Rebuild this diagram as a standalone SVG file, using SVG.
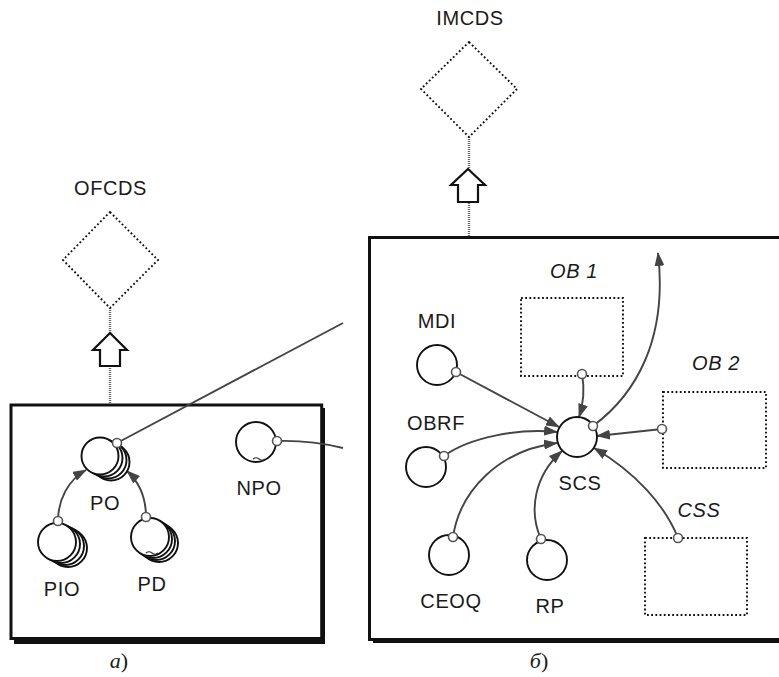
<svg xmlns="http://www.w3.org/2000/svg" width="779" height="677" viewBox="0 0 779 677">
<style>
.t{font-family:"Liberation Sans",Arial,sans-serif;font-size:20px;fill:#1a1a1a;text-anchor:middle;letter-spacing:0.6px}
.it{font-style:italic}
.cap{font-family:"Liberation Serif","Times New Roman",serif;font-size:22px;fill:#1a1a1a;text-anchor:middle}
.node{fill:#fff;stroke:#111;stroke-width:1.9}
.dot{fill:none;stroke:#111;stroke-width:1.9;stroke-dasharray:1.8 2.4}
.link{fill:none;stroke:#444;stroke-width:1.9}
.conn{fill:#fff;stroke:#555;stroke-width:1.6}
.stem{stroke:#666;stroke-width:2.4;stroke-dasharray:1 1}
.big{fill:#fff;stroke:#111;stroke-width:2.2}
</style>
<defs>
<marker id="ah" markerUnits="userSpaceOnUse" viewBox="0 0 14 10" refX="13" refY="5" markerWidth="14" markerHeight="10" orient="auto">
<path d="M0,0 L14,5 L0,10 Z" fill="#444"/>
</marker>
</defs>

<!-- Panel a -->
<g id="panel-a">
<rect x="14" y="408" width="311" height="236" fill="#111"/>
<rect x="11" y="405" width="310.7" height="233.5" fill="#fff" stroke="#111" stroke-width="3"/>
</g>
<!-- Panel b -->
<g id="panel-b">
<rect x="373" y="241" width="420" height="402" fill="#111"/>
<rect x="369.5" y="237.5" width="430" height="402" fill="#fff" stroke="#111" stroke-width="3"/>
</g>

<g id="OFCDS">
<line class="stem" x1="110" y1="308" x2="110" y2="404"/>
<polygon class="dot" points="110,212 158,260 110,308 63,260"/>
<path class="big" d="M110,333 L127,350 L120,350 L120,366 L100,366 L100,350 L93,350 Z"/>
<text class="t" x="110.5" y="195">OFCDS</text>
</g>

<g id="IMCDS">
<line class="stem" x1="469" y1="137" x2="469" y2="237"/>
<polygon class="dot" points="469,42 517,89 469,137 421,89"/>
<path class="big" d="M468,169 L485,185 L478,185 L478,202 L458,202 L458,185 L451,185 Z"/>
<text class="t" x="470" y="25">IMCDS</text>
</g>

<g id="connectors">
<path class="link" d="M117,443 L343,323"/>
<path class="link" d="M277,441 Q310,440 343,448"/>
<path class="link" marker-end="url(#ah)" d="M58,521 C58,500 68,480 86,470"/>
<path class="link" marker-end="url(#ah)" d="M146,517 C146,498 139,482 127,471"/>
<path class="link" marker-end="url(#ah)" d="M456,372 L559,427"/>
<path class="link" marker-end="url(#ah)" d="M582,374 Q586,396 579,417"/>
<path class="link" marker-end="url(#ah)" d="M444,456 C470,437 520,428 557,432"/>
<path class="link" marker-end="url(#ah)" d="M453,537 C460,490 500,450 557,443"/>
<path class="link" marker-end="url(#ah)" d="M541,539 C528,510 535,475 562,451"/>
<path class="link" marker-end="url(#ah)" d="M662,429 L597,436"/>
<path class="link" marker-end="url(#ah)" d="M678,538 C665,505 635,472 594,448"/>
<path class="link" marker-end="url(#ah)" d="M593,426 C635,395 668,340 658,253"/>
</g>

<g id="PO">
<circle class="node" cx="111" cy="462" r="18.5"/>
<circle class="node" cx="108" cy="460" r="18.5"/>
<circle class="node" cx="104" cy="458" r="18.5"/>
<circle class="node" cx="100" cy="456" r="18.5"/>
<circle class="conn" cx="117" cy="443" r="4.5"/>
<text class="t" x="105" y="510">PO</text>
</g>

<g id="PIO">
<circle class="node" cx="68" cy="548" r="19"/>
<circle class="node" cx="65" cy="546" r="19"/>
<circle class="node" cx="61" cy="544" r="19"/>
<circle class="node" cx="57" cy="542" r="19"/>
<circle class="conn" cx="58" cy="521" r="4.5"/>
<text class="t" x="62" y="596">PIO</text>
</g>

<g id="PD">
<circle class="node" cx="159" cy="543" r="19"/>
<circle class="node" cx="156" cy="541" r="19"/>
<circle class="node" cx="153" cy="539" r="19"/>
<circle class="node" cx="150" cy="537" r="19"/>
<path d="M146,553 q3,-2.5 6,0 q3,2.5 6,0" fill="none" stroke="#333" stroke-width="1.2"/>
<circle class="conn" cx="146" cy="517" r="4.5"/>
<text class="t" x="152" y="591">PD</text>
</g>

<g id="NPO">
<circle class="node" cx="256" cy="442" r="20"/>
<path d="M253,459 q3,-2.5 6,0 q3,2.5 6,0" fill="none" stroke="#333" stroke-width="1.2"/>
<circle class="conn" cx="277" cy="441" r="4.5"/>
<text class="t" x="259" y="495">NPO</text>
</g>

<g id="MDI">
<circle class="node" cx="437" cy="365" r="20"/>
<circle class="conn" cx="456" cy="372" r="4.5"/>
<text class="t" x="437" y="328">MDI</text>
</g>

<g id="OBRF">
<circle class="node" cx="426" cy="467" r="20"/>
<circle class="conn" cx="444" cy="456" r="4.5"/>
<text class="t" x="436" y="430">OBRF</text>
</g>

<g id="CEOQ">
<circle class="node" cx="449" cy="555" r="20"/>
<circle class="conn" cx="453" cy="537" r="4.5"/>
<text class="t" x="451" y="608">CEOQ</text>
</g>

<g id="RP">
<circle class="node" cx="547" cy="560" r="20"/>
<circle class="conn" cx="541" cy="539" r="4.5"/>
<text class="t" x="550" y="613">RP</text>
</g>

<g id="SCS">
<circle class="node" cx="577" cy="437" r="20"/>
<circle class="conn" cx="593" cy="426" r="4.5"/>
<text class="t" x="580" y="490">SCS</text>
</g>

<g id="OB1">
<rect class="dot" x="521" y="298" width="102" height="78"/>
<circle class="conn" cx="582" cy="374" r="4.5"/>
<text class="t it" x="574" y="278">OB 1</text>
</g>

<g id="OB2">
<rect class="dot" x="663" y="392" width="103" height="76"/>
<circle class="conn" cx="662" cy="429" r="4.5"/>
<text class="t it" x="716" y="370">OB 2</text>
</g>

<g id="CSS">
<rect class="dot" x="645" y="538" width="102" height="77"/>
<circle class="conn" cx="678" cy="538" r="4.5"/>
<text class="t it" x="699" y="517">CSS</text>
</g>

<text class="cap" x="119" y="668"><tspan font-style="italic">а</tspan>)</text>
<text class="cap" x="539" y="668"><tspan font-style="italic">б</tspan>)</text>
</svg>
